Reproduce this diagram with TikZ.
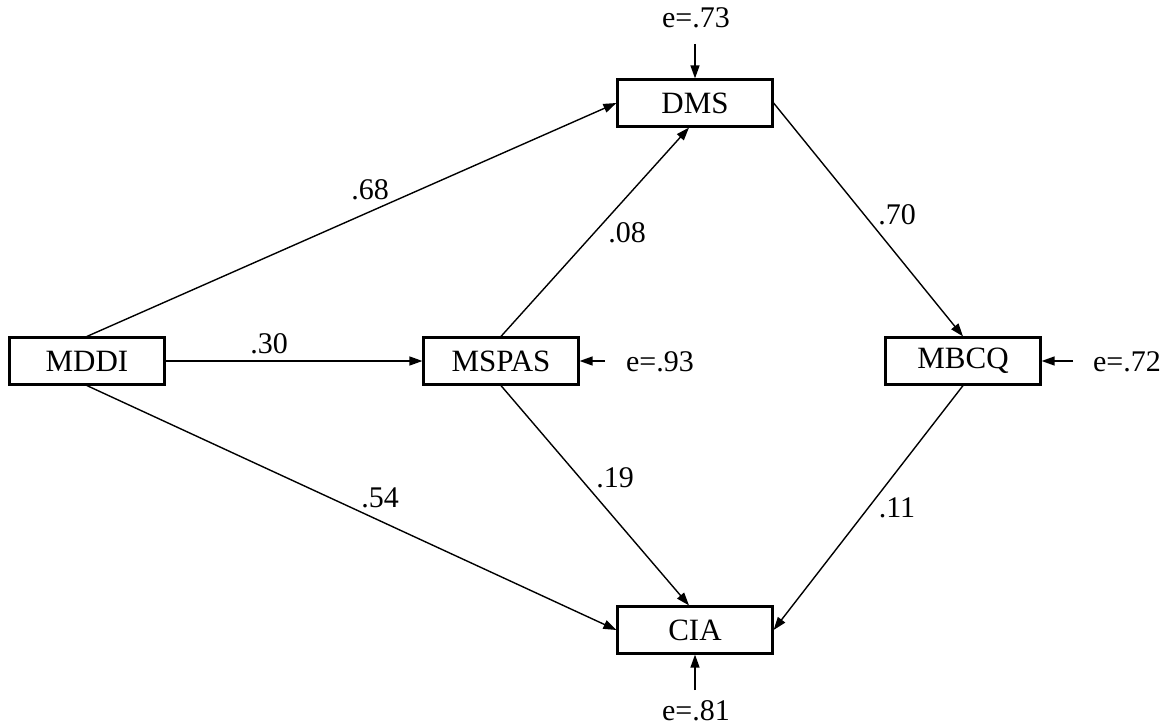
\documentclass[tikz,border=0pt]{standalone}
\usepackage{fontspec}
\setmainfont{Liberation Serif}
\usetikzlibrary{arrows.meta}
\begin{document}
\begin{tikzpicture}[x=1pt,y=-1pt,
  var/.style={draw,line width=2.2pt,minimum width=155pt,minimum height=47pt,inner sep=0pt,font=\fontsize{31}{35}\selectfont},
  lbl/.style={font=\fontsize{30}{34}\selectfont,inner sep=0pt},
  path/.style={line width=1.4pt,-{Triangle[length=13pt,width=9pt]}}]
\useasboundingbox (0,0) rectangle (1175,727);
\node[var] (DMS) at (695,103) {DMS};
\node[var] (MDDI) at (87,361) {MDDI};
\node[var] (MSPAS) at (501,361) {MSPAS};
\node[var] (MBCQ) at (963,361) {MBCQ};
\node[var] (CIA) at (695,630) {CIA};
% error terms
\node[lbl] (eDMS) at (696,18) {e=.73};
\coordinate (eDMSa) at (695,44);
\node[lbl] (eMSPAS) at (660,362) {e=.93};
\coordinate (eMSPASa) at (605,361);
\node[lbl] (eMBCQ) at (1127,362) {e=.72};
\coordinate (eMBCQa) at (1073,361);
\node[lbl] (eCIA) at (696,711) {e=.81};
\coordinate (eCIAa) at (695,690);
\draw[path] (eDMSa) -- (DMS.north);
\draw[path] (eMSPASa) -- (MSPAS.east);
\draw[path] (eMBCQa) -- (MBCQ.east);
\draw[path] (eCIAa) -- (CIA.south);
% paths
\draw[path] (MDDI.north) -- (DMS.west);
\draw[path] (MSPAS.north) -- ([xshift=-6pt]DMS.south);
\draw[path] (DMS.east) -- (MBCQ.north);
\draw[path] (MDDI.east) -- (MSPAS.west);
\draw[path] (MDDI.south) -- (CIA.west);
\draw[path] (MSPAS.south) -- ([xshift=-6pt]CIA.north);
\draw[path] (MBCQ.south) -- (CIA.east);
% coefficients
\node[lbl] (c68) at (370,190) {.68};
\node[lbl] (c08) at (627,233) {.08};
\node[lbl] (c70) at (897,215) {.70};
\node[lbl] (c30) at (269,344) {.30};
\node[lbl] (c19) at (615,478) {.19};
\node[lbl] (c54) at (380,498) {.54};
\node[lbl] (c11) at (897,508) {.11};
\end{tikzpicture}
\end{document}
